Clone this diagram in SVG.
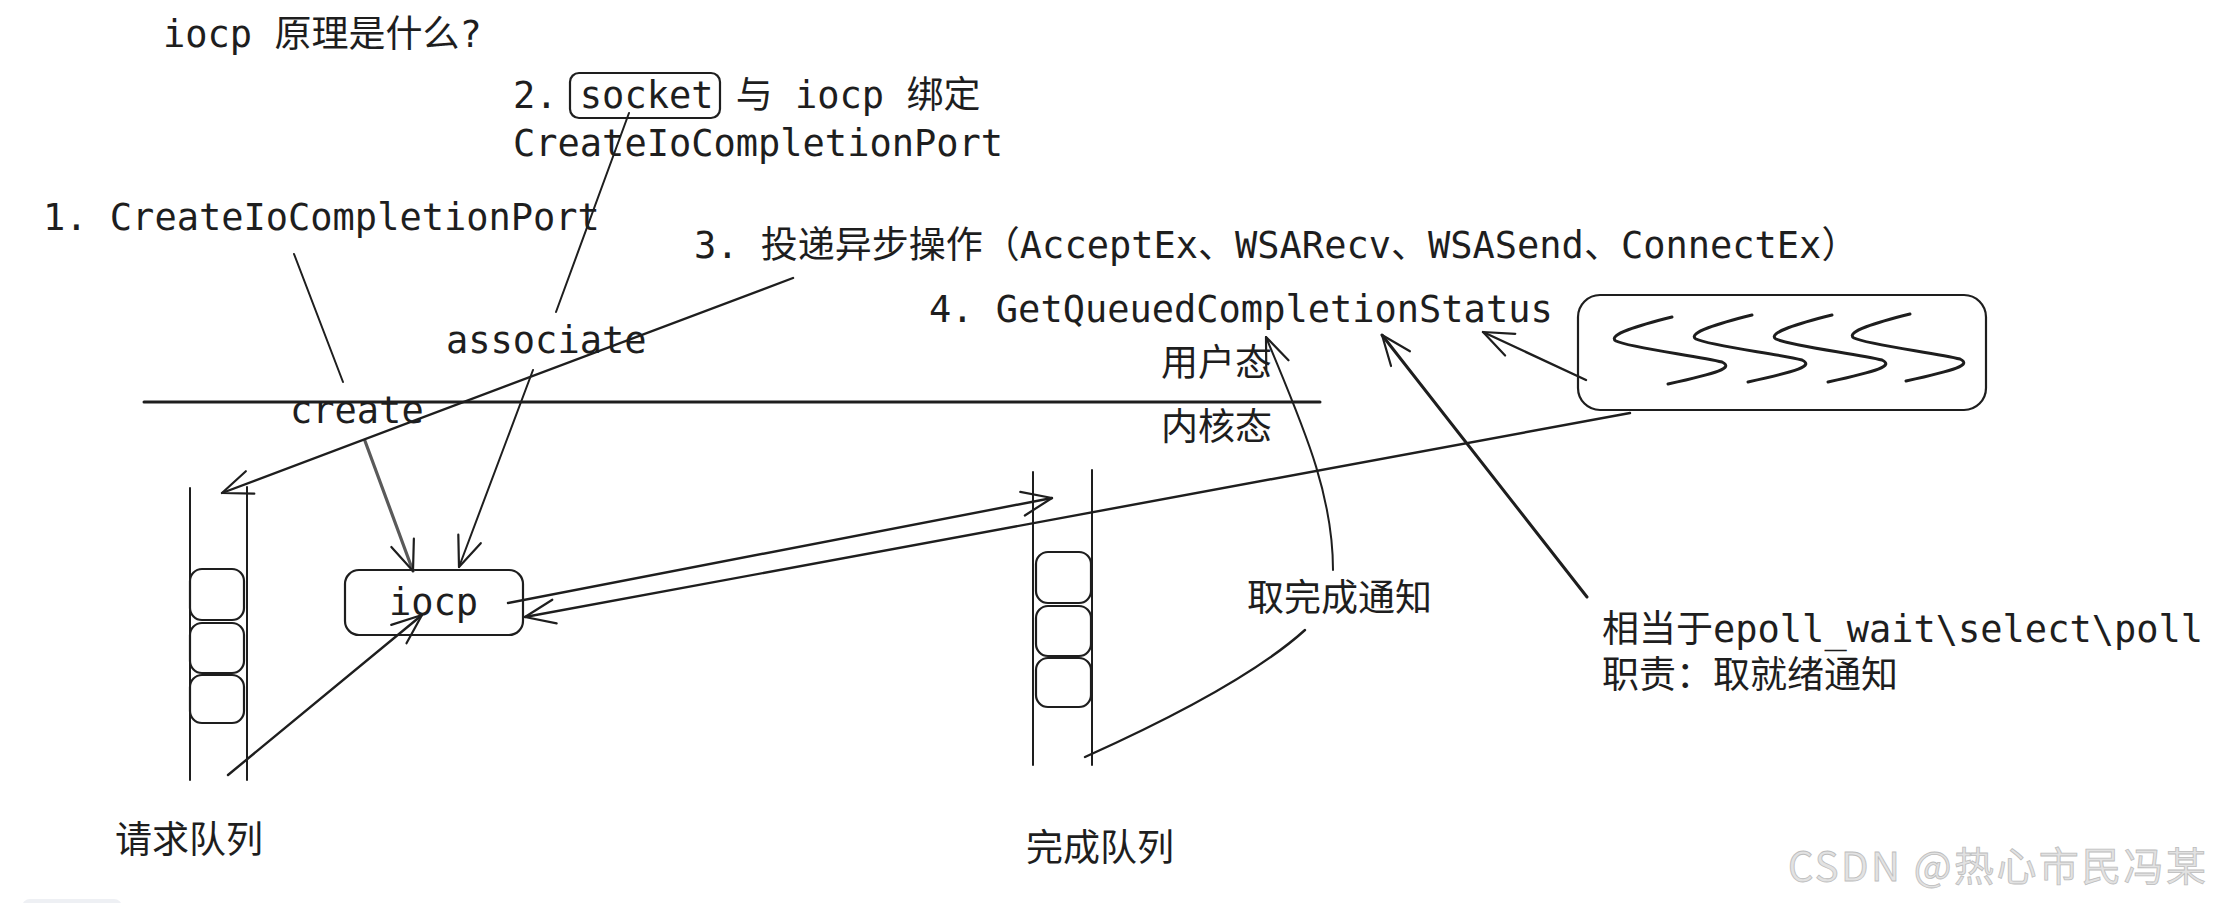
<svg xmlns="http://www.w3.org/2000/svg" width="2214" height="903" viewBox="0 0 2214 903">
<defs>
<style>
.t{font-family:'DejaVu Sans Mono','Noto Sans CJK SC',monospace;font-size:37px;fill:#1e1e1e}
.c{font-family:'Noto Sans CJK SC','Noto Sans',sans-serif;font-size:37px;fill:#1e1e1e}
.box{fill:#fff;stroke:#1e1e1e;stroke-width:2.2}
.ln{fill:none;stroke:#1e1e1e;stroke-width:2;stroke-linecap:round}
.dbl{fill:none;stroke:#1e1e1e;stroke-width:2.4;stroke-linecap:round}
.thk{fill:none;stroke:#1e1e1e;stroke-width:3;stroke-linecap:round}
.gry{fill:none;stroke:#5a5a5a;stroke-width:3.2;stroke-linecap:round}
.wave{fill:none;stroke:#1e1e1e;stroke-width:3;stroke-linecap:round;stroke-linejoin:round}
.wm{font-family:'Noto Sans CJK SC','Noto Sans',sans-serif;font-size:40px;fill:#e2e2e2;stroke:#bdbdbd;stroke-width:0.8}
</style>
<marker id="arr" viewBox="0 0 34 28" refX="32" refY="14" markerWidth="34" markerHeight="28" markerUnits="userSpaceOnUse" orient="auto">
<path d="M2,2 L32,14 L2,26" fill="none" stroke="#1e1e1e" stroke-width="2.2" stroke-linecap="round" stroke-linejoin="round"/>
</marker>
<path id="sq" d="M1672,317 C1640,325 1606,335 1616,341 C1630,348 1700,356 1722,362 C1734,368 1718,373 1668,384"/>
</defs>
<rect width="2214" height="903" fill="#fff"/>

<g id="texts">
<text class="t" x="163" y="47">iocp 原理是什么?</text>
<text class="t" x="43" y="230">1. CreateIoCompletionPort</text>
<text class="t" x="694" y="258">3. 投递异步操作（AcceptEx、WSARecv、WSASend、ConnectEx）</text>
<text class="t" x="929" y="322">4. GetQueuedCompletionStatus</text>
<text class="t" x="446" y="353">associate</text>
<text class="t" x="290" y="423">create</text>
<text class="c" x="1161" y="376">用户态</text>
<text class="c" x="1161" y="440">内核态</text>
<text class="c" x="1247" y="611">取完成通知</text>
<text class="t" x="1602" y="642">相当于epoll_wait\select\poll</text>
<text class="c" x="1602" y="688">职责：取就绪通知</text>
<text class="c" x="115" y="853">请求队列</text>
<text class="c" x="1026" y="861">完成队列</text>
</g>

<g id="node-socket">
<rect class="box" x="570" y="73" width="150" height="45" rx="9"/>
<text class="t" x="513" y="108">2. socket 与 iocp 绑定</text>
<text class="t" x="513" y="156">CreateIoCompletionPort</text>
</g>

<g id="separator">
<line class="thk" x1="144" y1="402" x2="1320" y2="402"/>
</g>

<g id="node-request-queue">
<line class="ln" x1="190" y1="488" x2="190" y2="780"/>
<line class="ln" x1="247" y1="487" x2="247" y2="780"/>
<rect class="box" x="190" y="569" width="54" height="51" rx="12"/>
<rect class="box" x="190" y="623" width="54" height="50" rx="12"/>
<rect class="box" x="190" y="675" width="54" height="48" rx="12"/>
</g>

<g id="node-iocp">
<rect class="box" x="345" y="570" width="178" height="65" rx="14"/>
<text class="t" x="389" y="615">iocp</text>
</g>

<g id="node-completion-queue">
<line class="ln" x1="1033" y1="472" x2="1033" y2="765"/>
<line class="ln" x1="1092" y1="470" x2="1092" y2="765"/>
<rect class="box" x="1036" y="552" width="55" height="51" rx="12"/>
<rect class="box" x="1036" y="606" width="55" height="50" rx="12"/>
<rect class="box" x="1036" y="658" width="55" height="49" rx="12"/>
</g>

<g id="node-wave">
<rect class="box" x="1578" y="295" width="408" height="115" rx="22"/>
<use href="#sq" class="wave"/>
<use href="#sq" class="wave" transform="translate(80,-2)"/>
<use href="#sq" class="wave" transform="translate(160,-2)"/>
<use href="#sq" class="wave" transform="translate(238,-3)"/>
</g>

<g id="connectors">
<line class="ln" x1="294" y1="254" x2="343" y2="382"/>
<line class="ln" x1="629" y1="113" x2="556" y2="312"/>
<line class="gry" x1="365" y1="441" x2="413" y2="571" marker-end="url(#arr)"/>
<line class="ln" x1="533" y1="370" x2="459" y2="567" marker-end="url(#arr)"/>
<line class="dbl" x1="793" y1="278" x2="222" y2="493" marker-end="url(#arr)"/>
<line class="dbl" x1="228" y1="775" x2="422" y2="615" marker-end="url(#arr)"/>
<line class="dbl" x1="508" y1="603" x2="1052" y2="498" marker-end="url(#arr)"/>
<line class="dbl" x1="1630" y1="413" x2="525" y2="617" marker-end="url(#arr)"/>
<path class="dbl" d="M1085,757 Q1243,686 1305,630"/>
<path class="ln" d="M1333,570 C1333,490 1300,420 1266,337" marker-end="url(#arr)"/>
<line class="thk" x1="1587" y1="597" x2="1382" y2="335" marker-end="url(#arr)"/>
<line class="dbl" x1="1586" y1="380" x2="1483" y2="332" marker-end="url(#arr)"/>
</g>

<g id="watermark">
<rect x="22" y="899" width="100" height="20" rx="8" fill="#eef0f4"/>
<text class="wm" x="1788" y="881" textLength="418">CSDN @热心市民冯某</text>
</g>
</svg>
